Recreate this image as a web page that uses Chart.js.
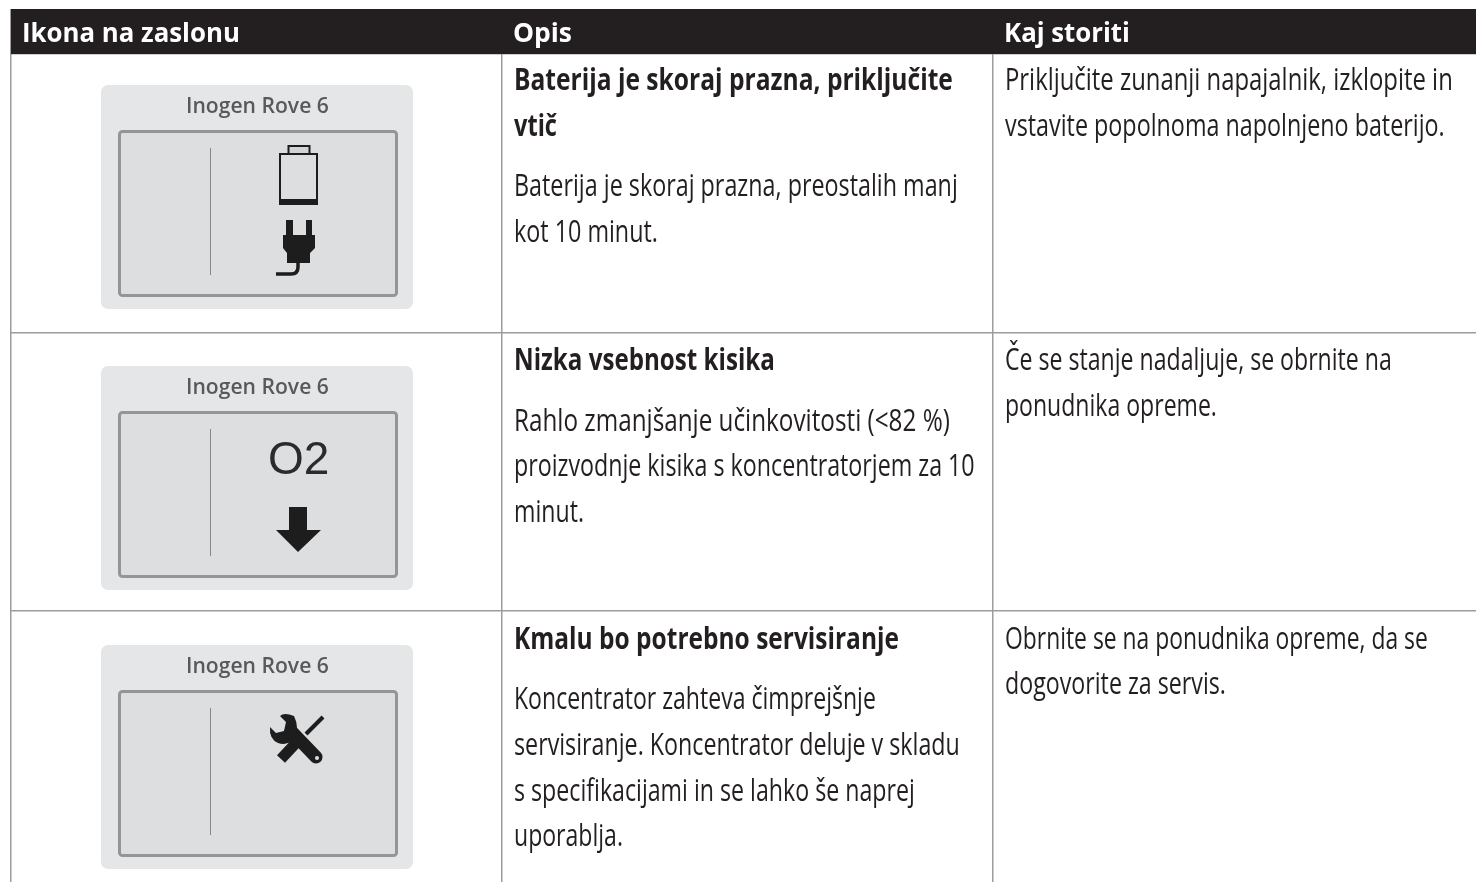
<!DOCTYPE html>
<html>
<head>
<meta charset="utf-8">
<style>
    html, body { margin: 0; padding: 0; background: #fff; overflow: hidden; }
    #wrap { position: relative; width: 1476px; height: 882px; }
    #wrap canvas, #overlay { position: absolute; left: 0; top: 0; }
</style>
<script src="https://cdn.jsdelivr.net/npm/chart.js@4"></script>
</head>
<body>
<div id="wrap">
    <canvas id="tableChart" width="1476" height="882"></canvas>
    <svg id="overlay" xmlns="http://www.w3.org/2000/svg" width="1476" height="882"></svg>
</div>
<script>
const columnHeaders = ["Ikona na zaslonu", "Opis", "Kaj storiti"];
const columnLines = [0, 1, 2, 3];
const rowLines = [0, 1, 2];
const headerBand = [{ x: 0, y: -0.1616 }, { x: 3, y: -0.1616 }];

const panelLabel = "Inogen Rove 6";
const panelIcons = ["battery", "oxygen", "tools"];

const rowTitles = [
    ["Baterija je skoraj prazna, priključite", "vtič"],
    ["Nizka vsebnost kisika"],
    ["Kmalu bo potrebno servisiranje"]
];
const rowTexts = [
    ["Baterija je skoraj prazna, preostalih manj", "kot 10 minut."],
    ["Rahlo zmanjšanje učinkovitosti (<82 %)", "proizvodnje kisika s koncentratorjem za 10", "minut."],
    ["Koncentrator zahteva čimprejšnje", "servisiranje. Koncentrator deluje v skladu", "s specifikacijami in se lahko še naprej", "uporablja."]
];
const rowActions = [
    ["Priključite zunanji napajalnik, izklopite in", "vstavite popolnoma napolnjeno baterijo."],
    ["Če se stanje nadaljuje, se obrnite na", "ponudnika opreme."],
    ["Obrnite se na ponudnika opreme, da se", "dogovorite za servis."]
];

//Measured widths of the lines above, the fonts here are wider than the original
const headerWidths = [218, 59, 126];
const titleWidths = [[439, 43], [261], [385]];
const textWidths = [[444, 144], [436, 461, 70], [362, 446, 401, 109]];
const actionWidths = [[448, 440], [387, 212], [423, 221]];

const ctx = document.getElementById("tableChart");

const tableChart = new Chart(ctx, {
    type: "scatter",
    data: {
        datasets: [{
            data: headerBand,
            showLine: true,
            pointRadius: 0,
            borderWidth: 0,
            backgroundColor: "#231f20",
            fill: { value: 0 }
        }]
    },
    options: {
        responsive: false,
        animation: false,
        layout: { padding: { left: 11, top: 9, right: 0, bottom: 0 } },
        plugins: { legend: { display: false }, tooltip: { enabled: false } },
        scales: {
            x: {
                type: "linear",
                min: 0,
                max: 2.9837,
                afterBuildTicks: axis => { axis.ticks = columnLines.map(v => ({ value: v })); },
                ticks: { display: false },
                border: { display: false },
                grid: { color: "#9c9c9c", lineWidth: 1.5, drawTicks: false }
            },
            y: {
                type: "linear",
                reverse: true,
                min: -0.1616,
                max: 2.973,
                afterBuildTicks: axis => { axis.ticks = rowLines.map(v => ({ value: v })); },
                ticks: { display: false },
                border: { display: false },
                grid: { color: "#9c9c9c", lineWidth: 1.5, drawTicks: false }
            }
        }
    }
});

//Text and icons on top of the table
const svg = document.getElementById("overlay");
const measure = document.createElement("canvas").getContext("2d");

function addText(parent, str, x, y, size, weight, color, width) {
    measure.font = `${weight} ${size}px 'Open Sans'`;
    const sx = width / measure.measureText(str).width;
    const t = document.createElementNS(svg.namespaceURI, "text");
    t.textContent = str;
    t.setAttribute("transform", `translate(${x},${y}) scale(${sx},1)`);
    t.setAttribute("font-family", "Open Sans");
    t.setAttribute("font-size", size);
    t.setAttribute("font-weight", weight);
    t.setAttribute("fill", color);
    parent.appendChild(t);
    return t;
}

const xPx = v => tableChart.scales.x.getPixelForValue(v);
const yPx = v => tableChart.scales.y.getPixelForValue(v);
const lineStep = 45.8;
const textSize = 31;
const textColor = "#231f20";

columnHeaders.forEach((h, i) => {
    addText(svg, h, xPx(i) + 11, 42, 26, 700, "#fff", headerWidths[i]);
});

[36, 37.5, 37.5].forEach((offset, r) => {
    let y = yPx(r) + offset;
    const x = xPx(1) + 12;
    rowTitles[r].forEach((line, i) => {
        addText(svg, line, x, y + i * lineStep, textSize, 700, textColor, titleWidths[r][i]);
    });
    y += (rowTitles[r].length - 1) * lineStep + 60.5;
    rowTexts[r].forEach((line, i) => {
        addText(svg, line, x, y + i * lineStep, textSize, 400, textColor, textWidths[r][i]);
    });
    rowActions[r].forEach((line, i) => {
        addText(svg, line, xPx(2) + 12, yPx(r) + offset + i * lineStep, textSize, 400, textColor, actionWidths[r][i]);
    });
});

const iconMarkup = {
    battery: `
        <rect x="179" y="69" width="37" height="49" fill="none" stroke="#1d1d1d" stroke-width="2"/>
        <rect x="178" y="114" width="39" height="6" fill="#1d1d1d"/>
        <rect x="187.500" y="61" width="21" height="8" fill="#d2d3d5" stroke="#1d1d1d" stroke-width="2"/>
        <path d="M185 135h7v15h13v-15h6v15h3v13l-5 5v10h-23v-10l-4 -5v-13h3z" fill="#1d1d1d"/>
        <path d="M197 178v4q0 7 -7 7h-15" fill="none" stroke="#1d1d1d" stroke-width="3.500"/>`,
    oxygen: `
        <text x="167" y="108" font-family="Liberation Sans" font-size="46" fill="#2b2b2b">O2</text>
        <path d="M188 141h18v23h14l-23 22l-22 -22h13z" fill="#1d1d1d"/>`,
    tools: `
        <g transform="translate(0,29)">
            <path d="M222 43L205 60" stroke="#1d1d1d" stroke-width="4"/>
            <path d="M195 69L180 85" stroke="#1d1d1d" stroke-width="11"/>
            <path d="M190 57L215 83" stroke="#1d1d1d" stroke-width="13" stroke-linecap="round"/>
            <path d="M193 42q-10 -4 -14 0l6 6l-2 9l-8 2l-6 -6q-1 12 8 16q9 3 16 -4q6 -11 0 -23z" fill="#1d1d1d"/>
            <circle cx="216" cy="84" r="2" fill="#dcdee0"/>
        </g>`
};

const panelTops = [85, 366, 645];

panelIcons.forEach((icon, i) => {
    const g = document.createElementNS(svg.namespaceURI, "g");
    g.setAttribute("transform", `translate(101,${panelTops[i]})`);
    g.setAttribute("style", "filter: blur(0.45px)");
    g.innerHTML = `
        <rect x="0" y="0" width="312" height="224" rx="7" fill="#e5e6e7"/>
        <rect x="18.500" y="46.500" width="277" height="164" rx="3" fill="#dcdee0" stroke="#939598" stroke-width="3"/>
        <rect x="109" y="63" width="1" height="127" fill="#85878a"/>
        ${iconMarkup[icon]}`;
    svg.appendChild(g);
    addText(g, panelLabel, 85, 28, 21, 600, "#58595b", 143);
});
</script>
</body>
</html>
